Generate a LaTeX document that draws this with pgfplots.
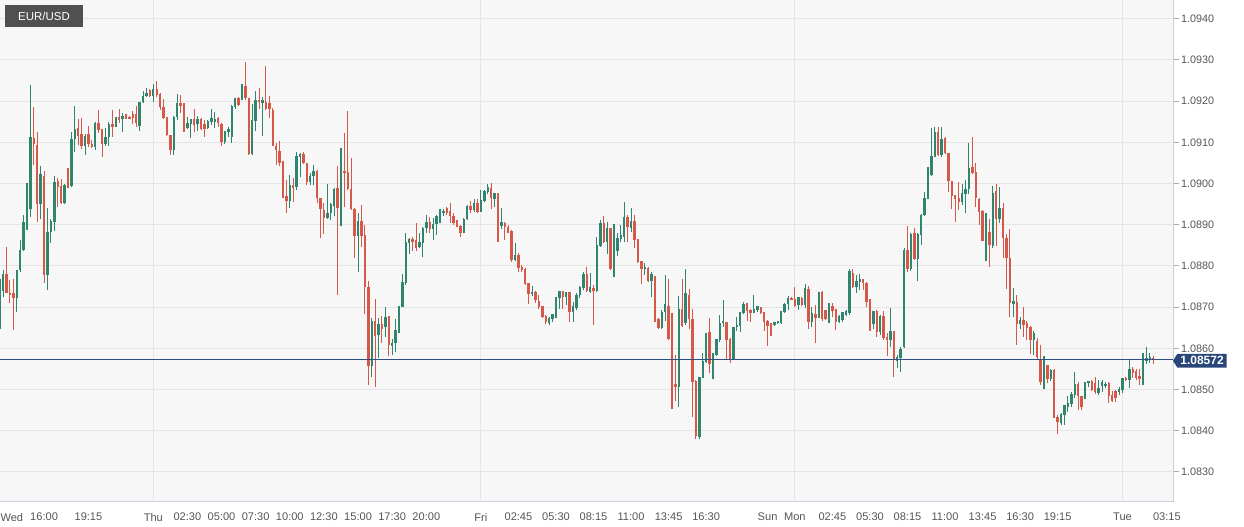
\documentclass[border=0pt]{standalone}
\usepackage{pgfplots}
\pgfplotsset{compat=1.18}
\usepackage{pgfplotstable}
\usepackage{fontspec}
\setmainfont{Liberation Sans}
\definecolor{cup}{RGB}{48,133,110}
\definecolor{cdn}{RGB}{214,88,72}
\definecolor{gridc}{RGB}{229,229,229}
\definecolor{axc}{RGB}{200,208,225}
\definecolor{navy}{RGB}{40,70,120}
\definecolor{pline}{RGB}{46,80,135}
\definecolor{lblc}{RGB}{85,85,85}
\definecolor{bgc}{RGB}{247,247,247}
\definecolor{tagc}{RGB}{80,80,80}
% k = 15-minute candle index (0 = Thu 00:00); o h l c in pips above 1.0800
\pgfplotstableread{
k o h l c
-45 64.8 76.8 63.6 76.6
-44 74.0 79.1 72.5 77.9
-43 77.9 84.7 73.3 73.5
-42 73.3 76.6 71.1 72.9
-41 73.3 76.7 64.4 72.1
-40 72.1 78.9 68.9 78.8
-39 79.1 86.4 78.6 83.7
-38 83.9 92.3 83.7 90.5
-37 91.0 100.2 88.7 94.0
-36 93.7 123.9 91.8 111.1
-35 111.0 118.5 104.5 109.6
-34 109.2 112.4 90.7 95.0
-33 95.0 104.2 91.3 102.1
-32 101.7 103.1 75.8 77.8
-31 77.8 94.0 74.1 88.1
-30 88.3 91.3 85.6 90.7
-29 90.7 101.7 88.5 100.3
-28 100.4 101.3 94.2 99.1
-27 99.2 101.0 95.0 95.2
-26 95.2 99.8 95.0 99.6
-25 99.8 103.7 99.0 99.2
-24 99.4 112.6 99.2 110.7
-23 110.7 118.8 107.7 113.0
-22 113.4 115.6 109.3 111.5
-21 111.8 115.8 108.3 109.1
-20 109.1 112.0 106.9 111.4
-19 111.8 114.0 108.9 109.6
-18 109.5 110.6 108.5 108.9
-17 108.8 115.0 108.1 114.6
-16 114.6 117.8 112.2 113.0
-15 113.0 113.2 106.5 109.6
-14 109.6 113.4 109.1 111.2
-13 111.4 115.0 109.1 114.4
-12 114.4 117.8 111.4 113.8
-11 113.8 116.1 113.6 116.0
-10 116.0 118.0 114.8 115.4
-9 115.6 117.0 112.6 116.2
-8 116.2 116.9 115.6 115.9
-7 116.0 116.4 115.6 115.7
-6 116.6 117.7 114.4 115.8
-5 116.6 118.8 113.6 114.8
-4 114.0 119.8 112.8 119.7
-3 119.7 122.5 119.6 121.1
-2 121.2 123.3 121.1 121.7
-1 122.5 122.9 121.1 121.2
0 121.2 124.2 119.7 122.9
1 122.9 125.0 121.1 121.5
2 121.5 121.9 117.8 118.5
3 118.5 120.4 115.6 115.8
4 116.0 116.1 111.5 111.8
5 111.6 111.8 106.9 108.1
6 108.1 116.3 106.9 116.1
7 116.1 121.7 115.4 119.3
8 119.3 121.5 117.2 118.8
9 118.8 119.5 112.6 113.2
10 113.4 116.2 113.2 114.6
11 114.4 115.6 111.0 115.4
12 115.4 118.1 112.4 114.2
13 114.4 116.5 112.7 115.4
14 115.4 115.8 113.0 113.2
15 114.2 115.4 111.4 113.2
16 113.4 115.4 113.2 115.0
17 115.0 118.2 114.2 115.8
18 115.0 117.3 113.4 115.4
19 115.8 116.2 113.6 114.6
20 114.4 114.6 109.2 110.0
21 110.0 112.7 109.5 112.6
22 112.6 113.6 111.4 113.0
23 111.4 119.0 109.8 118.6
24 118.6 120.8 118.2 120.7
25 120.7 121.1 118.9 119.1
26 120.3 124.1 120.2 123.3
27 123.5 129.6 120.3 120.7
28 120.5 120.7 106.8 107.1
29 107.1 119.2 107.0 115.2
30 115.2 122.5 112.7 120.0
31 120.0 123.1 118.2 119.7
32 119.5 121.1 111.6 120.0
33 119.7 128.4 117.8 118.1
34 119.5 121.3 115.8 118.1
35 117.6 118.4 109.0 109.2
36 109.0 109.8 104.5 108.1
37 107.7 110.2 104.2 104.9
38 104.9 105.5 96.5 97.2
39 96.8 100.9 92.8 95.8
40 95.8 102.0 94.0 99.6
41 99.4 101.3 95.6 98.8
42 99.1 107.7 98.3 106.5
43 106.5 107.3 101.5 107.1
44 106.9 107.7 104.7 104.9
45 104.9 105.0 99.6 100.4
46 100.4 102.5 99.6 101.7
47 101.8 104.5 99.6 103.0
48 103.0 103.3 95.2 96.4
49 96.4 96.5 86.7 93.7
50 93.4 95.2 87.8 91.6
51 91.6 99.9 91.3 92.8
52 92.8 95.2 91.2 94.8
53 94.5 98.8 92.0 98.6
54 98.8 104.3 73.0 94.0
55 94.4 108.5 89.7 102.9
56 102.9 112.2 94.4 102.6
57 102.6 117.7 98.4 98.6
58 98.6 106.1 93.6 93.7
59 93.7 94.0 81.8 87.3
60 87.3 92.8 78.4 90.7
61 90.7 94.8 84.7 87.3
62 87.3 90.0 68.3 74.8
63 74.8 76.4 51.1 55.6
64 55.6 67.3 53.1 66.5
65 66.5 71.9 50.5 63.0
66 63.2 67.3 57.6 65.8
67 65.7 67.8 61.4 64.6
68 65.1 70.1 62.8 67.5
69 67.7 67.8 58.1 60.8
70 60.6 62.2 58.4 61.2
71 61.2 67.0 59.0 64.4
72 64.6 70.3 63.6 70.1
73 70.1 78.1 70.0 75.9
74 75.9 88.1 75.4 85.6
75 85.6 86.7 82.9 86.3
76 86.4 87.1 83.7 85.9
77 86.1 90.5 83.5 84.3
78 84.5 87.9 84.3 85.6
79 85.6 89.4 82.1 89.1
80 89.1 92.4 87.9 90.5
81 90.5 91.8 87.9 88.9
82 88.9 91.6 86.3 90.0
83 90.2 92.4 87.5 92.0
84 92.0 93.7 90.3 92.9
85 92.9 93.7 92.0 93.2
86 94.0 94.2 92.4 92.8
87 93.2 95.2 90.5 92.1
88 92.0 92.9 90.0 90.5
89 90.7 91.1 89.4 89.7
90 89.5 89.9 87.1 88.1
91 88.1 91.6 87.9 91.3
92 91.3 94.8 91.1 94.4
93 94.4 95.8 92.8 93.6
94 93.6 96.2 93.2 95.0
95 95.2 96.2 92.9 93.2
96 93.2 98.4 93.2 95.8
97 95.8 98.3 95.6 98.0
98 98.0 99.9 97.5 99.1
99 98.8 100.2 93.7 96.4
100 96.2 97.8 94.2 97.5
101 97.5 97.8 85.9 89.7
102 89.7 94.0 88.9 90.5
103 90.3 90.6 86.4 89.5
104 89.4 89.9 87.9 88.1
105 88.3 88.7 81.0 81.4
106 81.4 85.5 81.3 82.6
107 82.6 83.1 78.4 79.4
108 79.7 80.2 78.6 79.0
109 79.2 79.4 75.4 75.6
110 75.6 75.8 70.8 73.2
111 73.2 75.0 72.7 73.5
112 73.4 74.0 70.9 71.6
113 71.3 72.9 69.5 70.0
114 70.0 70.1 67.3 67.7
115 67.8 68.1 65.9 66.5
116 66.2 67.7 65.7 67.3
117 67.0 68.3 66.5 68.1
118 67.7 72.5 67.3 72.1
119 72.1 74.0 69.5 73.7
120 73.7 74.0 69.5 72.5
121 72.5 73.7 70.5 73.5
122 73.4 73.5 66.5 68.9
123 68.9 71.3 66.5 70.1
124 69.7 73.3 69.3 72.9
125 72.9 75.2 72.1 74.7
126 74.7 78.4 74.1 77.9
127 77.9 79.8 73.6 73.9
128 73.6 78.2 73.3 74.7
129 74.6 75.4 65.7 73.8
130 73.8 86.9 73.6 84.9
131 84.9 91.1 84.7 90.3
132 90.3 92.2 85.5 85.9
133 85.9 90.7 83.0 89.1
134 89.1 89.3 79.0 79.2
135 79.2 90.1 77.4 83.9
136 83.6 87.9 82.5 86.7
137 86.5 89.9 85.9 87.3
138 87.1 95.6 85.7 91.7
139 91.7 92.4 85.9 89.5
140 89.3 94.0 88.2 90.7
141 90.7 92.4 84.3 86.3
142 86.3 86.4 80.6 81.0
143 81.0 81.2 75.5 79.2
144 79.2 80.6 77.8 79.6
145 79.4 79.8 76.0 76.3
146 76.3 78.6 72.5 77.8
147 77.4 77.5 66.5 66.9
148 66.9 67.3 64.7 65.0
149 65.0 69.3 64.7 68.7
150 68.7 77.8 66.6 70.5
151 70.1 76.7 62.0 62.2
152 62.2 68.5 45.2 51.5
153 51.3 58.4 47.1 50.7
154 50.7 72.7 45.7 69.5
155 69.3 76.7 65.2 65.4
156 66.2 79.2 65.7 73.2
157 72.9 74.5 64.8 67.0
158 67.0 69.5 43.4 51.9
159 51.9 52.3 38.1 38.7
160 38.5 53.1 37.9 52.9
161 52.9 58.8 52.7 56.7
162 56.7 63.8 56.5 63.6
163 63.8 67.3 54.1 56.2
164 56.2 58.8 52.5 58.4
165 58.4 62.2 58.1 62.0
166 62.0 68.1 61.6 66.1
167 66.1 71.7 65.2 66.5
168 66.2 66.5 57.3 62.0
169 62.0 62.4 56.5 57.3
170 57.3 65.2 57.2 65.1
171 65.1 67.5 64.3 65.6
172 65.4 68.9 64.0 68.6
173 68.6 71.3 68.3 70.7
174 70.9 71.1 66.7 69.1
175 69.1 69.5 66.5 68.6
176 68.6 72.9 68.5 69.3
177 69.3 70.3 68.9 70.1
178 69.9 70.1 68.3 68.5
179 68.6 68.9 64.3 66.5
180 66.5 66.8 60.6 65.4
181 65.8 66.2 63.0 64.8
182 65.6 66.5 65.4 66.2
183 66.2 66.5 65.9 66.4
184 66.1 69.1 66.0 68.9
185 68.9 71.1 68.6 70.7
186 70.7 72.7 69.3 72.1
187 72.1 72.4 71.6 71.7
188 71.9 74.8 70.1 70.3
189 70.5 72.5 69.3 72.4
190 72.1 72.4 70.3 70.5
191 70.5 75.6 69.7 74.5
192 74.3 75.1 64.8 66.5
193 66.5 70.1 65.2 68.5
194 68.1 70.5 61.2 67.3
195 67.4 73.7 67.3 73.6
196 73.6 74.0 66.7 67.0
197 69.1 69.3 66.9 67.0
198 69.3 70.9 66.1 70.1
199 70.1 70.9 67.7 69.1
200 69.3 69.5 64.4 66.5
201 66.5 68.1 66.1 67.8
202 66.8 68.9 66.4 68.6
203 68.1 69.3 67.8 68.9
204 68.5 79.2 68.1 78.6
205 78.2 79.2 74.6 74.8
206 74.8 77.8 73.3 76.2
207 76.2 78.0 74.1 76.6
208 76.6 76.7 74.1 75.8
209 75.8 76.2 70.1 71.3
210 71.1 71.9 64.3 65.9
211 65.9 69.1 64.8 68.9
212 68.9 69.3 62.8 64.0
213 64.0 68.1 63.2 67.8
214 67.8 69.1 62.0 62.4
215 62.7 63.6 58.1 62.0
216 62.0 69.9 60.4 64.0
217 64.0 64.1 53.1 57.1
218 57.0 58.4 55.1 57.8
219 57.6 60.4 54.3 59.6
220 60.2 84.3 60.0 83.7
221 83.7 89.7 78.4 79.2
222 79.2 87.9 78.8 87.7
223 87.9 89.3 81.4 81.6
224 81.6 87.9 76.4 87.5
225 87.5 92.6 85.1 92.3
226 92.3 98.0 92.0 96.4
227 96.4 104.1 96.2 101.7
228 102.1 113.4 101.8 106.5
229 106.5 113.8 106.4 112.3
230 112.3 113.8 106.7 106.9
231 106.9 113.8 106.4 110.7
232 111.0 111.4 107.2 107.3
233 107.3 107.5 98.0 100.7
234 100.4 100.7 93.7 97.0
235 97.0 97.2 90.7 96.2
236 96.4 100.4 93.6 95.6
237 95.6 99.9 94.8 97.5
238 97.5 100.9 92.9 98.6
239 98.6 109.8 97.5 103.7
240 103.9 111.2 102.3 102.5
241 102.6 104.9 94.4 96.4
242 96.2 96.4 89.9 93.2
243 93.2 93.6 86.0 86.1
244 86.1 92.8 81.3 88.1
245 88.1 91.3 79.7 85.1
246 84.8 99.4 84.3 97.5
247 98.0 99.9 84.8 91.3
248 91.3 99.2 90.5 94.0
249 94.0 95.2 81.8 86.7
250 86.7 87.8 74.3 81.8
251 81.8 88.9 67.5 70.9
252 70.8 74.6 67.5 71.3
253 71.1 72.9 60.8 65.9
254 65.9 67.7 64.6 66.7
255 66.7 70.0 62.8 65.7
256 65.9 66.7 61.9 64.9
257 64.9 65.3 58.6 61.9
258 61.9 64.3 58.4 63.5
259 61.6 62.4 57.3 57.8
260 57.3 60.8 51.1 51.7
261 51.7 58.1 50.0 55.7
262 55.7 56.0 51.5 52.5
263 52.5 55.0 52.0 54.7
264 54.7 54.9 43.0 43.2
265 43.2 43.8 39.3 42.2
266 41.8 44.2 41.4 43.8
267 43.8 46.2 41.4 46.0
268 45.7 48.4 44.6 46.5
269 46.5 49.5 45.7 48.7
270 48.7 54.3 47.9 51.3
271 51.3 51.7 45.0 48.3
272 48.3 48.4 44.9 45.7
273 47.9 51.9 47.6 51.7
274 51.5 52.1 50.7 51.9
275 51.9 52.3 49.7 49.9
276 51.5 53.0 48.9 49.5
277 49.2 52.3 48.7 50.3
278 50.8 52.3 49.5 51.7
279 50.8 51.7 50.3 51.2
280 51.5 51.7 46.8 48.3
281 48.4 49.7 47.0 47.3
282 49.5 49.9 47.0 47.9
283 49.5 50.5 48.7 50.0
284 49.9 52.9 49.1 52.7
285 52.7 53.1 52.1 52.3
286 52.3 57.3 50.3 54.9
287 54.9 55.5 52.7 53.9
288 54.3 54.9 52.3 52.7
289 53.1 54.9 51.1 52.5
290 52.7 58.9 51.1 57.0
291 56.8 60.2 56.3 57.6
292 57.3 58.8 56.5 57.8
293 57.6 58.1 56.3 57.2
}\candles

\pgfplotsset{
  candle/.style={mark=none, draw opacity=0, forget plot,
    error bars/.cd, y dir=plus, y explicit, error mark=none,
    error bar style={draw opacity=1, line cap=butt, #1}},
}

\begin{document}
\begin{tikzpicture}
\path[use as bounding box] (0,0) rectangle (933pt,395.25pt);
\begin{axis}[
  at={(0pt,18.75pt)}, anchor=south west,
  scale only axis, width=879.75pt, height=376.5pt,
  xmin=-44.92, xmax=298.8, ymin=1.082269, ymax=1.094454,
  axis background/.style={fill=bgc},
  axis x line*=bottom, axis y line*=right,
  axis line style={draw=axc, line width=0.75pt},
  /pgf/number format/assume math mode=true,
  ytick={1.083,1.084,1.085,1.086,1.087,1.088,1.089,1.090,1.091,1.092,1.093,1.094},
  yticklabel style={/pgf/number format/fixed, /pgf/number format/fixed zerofill,
    /pgf/number format/precision=4, font=\fontsize{8.1}{10}\selectfont, text=lblc,
    inner sep=1pt},
  ytick style={draw=lblc!50, line width=0.6pt},
  tick align=outside, major tick length=4.8pt,
  ymajorgrids, grid style={draw=gridc, line width=0.75pt},
  xtick={-41.44,-32,-19,0,10,20,30,40,50,60,70,80,96,107,118,129,140,151,162,180,188,199,210,221,232,243,254,265,284,297},
  xticklabels={Wed,16:00,19:15,Thu,02:30,05:00,07:30,10:00,12:30,15:00,17:30,20:00,Fri,02:45,05:30,08:15,11:00,13:45,16:30,Sun,Mon,02:45,05:30,08:15,11:00,13:45,16:30,19:15,Tue,03:15},
  xticklabel style={font=\fontsize{8.3}{10}\selectfont, text=lblc},
  xtick style={draw=none},
  extra x ticks={0,96,188,284}, extra x tick labels={},
  extra x tick style={grid=major, xtick style={draw=none}},
  clip=true,
]
\draw[axc, line width=0.75pt] (rel axis cs:0,0) -- (rel axis cs:0,1);
% wicks
\addplot[candle={line width=0.8pt, cup}]
  table[x=k, y expr=1.08+\thisrow{l}/10000,
    y error plus expr={(\thisrow{c}>=\thisrow{o})*(\thisrow{h}-\thisrow{l})/10000}] {\candles};
\addplot[candle={line width=0.8pt, cdn}]
  table[x=k, y expr=1.08+\thisrow{l}/10000,
    y error plus expr={(\thisrow{c}<\thisrow{o})*(\thisrow{h}-\thisrow{l})/10000}] {\candles};
% bodies
\addplot[candle={line width=1.8pt, cup}]
  table[x=k, y expr=1.08+\thisrow{o}/10000,
    y error plus expr={(\thisrow{c}>=\thisrow{o})*(\thisrow{c}-\thisrow{o}+0.15)/10000}] {\candles};
\addplot[candle={line width=1.8pt, cdn}]
  table[x=k, y expr=1.08+\thisrow{c}/10000,
    y error plus expr={(\thisrow{c}<\thisrow{o})*(\thisrow{o}-\thisrow{c}+0.15)/10000}] {\candles};
% current price
\addplot[pline, line width=0.9pt, forget plot] coordinates {(-46,1.08572) (300,1.08572)};
\end{axis}
% price tag
\fill[navy] (879.75pt,124.7pt) -- (883pt,129.9pt) -- (920pt,129.9pt) -- (920pt,119.5pt) -- (883pt,119.5pt) -- cycle;
\node[text=white, font=\bfseries\fontsize{9}{10}\selectfont, inner sep=0pt] at (901.5pt,124.7pt) {1.08572};
% instrument tag
\fill[tagc] (3.75pt,375pt) rectangle (62.25pt,391.5pt);
\node[text=white, font=\fontsize{8.6}{10}\selectfont, inner sep=0pt] at (33pt,383.25pt) {EUR/USD};
\end{tikzpicture}
\end{document}
